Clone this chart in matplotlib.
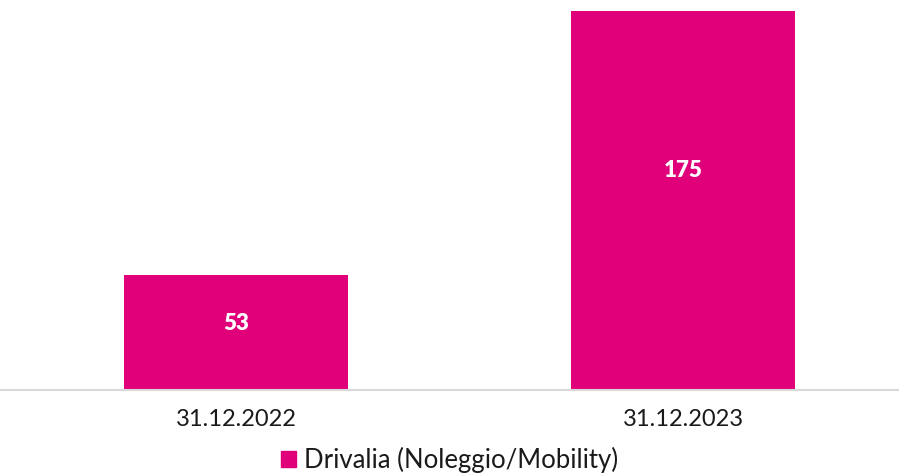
import matplotlib.pyplot as plt
from matplotlib.patches import Patch

categories = ['31.12.2022', '31.12.2023']
values = [53, 175]
series_name = 'Drivalia (Noleggio/Mobility)'
color = '#E0007A'

plt.rcParams['font.family'] = ['Lato', 'DejaVu Sans']

fig = plt.figure(figsize=(8.99, 4.73), dpi=100)
ax = fig.add_axes([0, (473 - 390) / 473, 1, (390 - 11) / 473])

x = range(len(categories))
bars = ax.bar(x, values, width=0.5, color=color)
for b, v in zip(bars, values):
    ax.text(b.get_x() + b.get_width() / 2, v * 0.58, str(v), ha='center', va='center',
            color='white', fontsize=16, fontweight='heavy')

ax.set_xlim(-236 / 447, (899 - 236) / 447)
ax.set_ylim(0, 175)
ax.set_xticks(list(x))
ax.set_xticklabels(categories, fontsize=17, color='#1a1a1a')
ax.tick_params(axis='x', length=0, pad=14)
ax.set_yticks([])
for s in ['top', 'right', 'left']:
    ax.spines[s].set_visible(False)
ax.spines['bottom'].set_color('#d9d9d9')
ax.spines['bottom'].set_linewidth(1.5)

fig.legend(handles=[Patch(color=color, label=series_name)], loc='center',
           bbox_to_anchor=(0.5, (473 - 460) / 473), frameon=False, fontsize=18.5,
           handlelength=0.6, handleheight=0.6, handletextpad=0.3, labelcolor='#1a1a1a')

fig.savefig('out.png', dpi=100)
